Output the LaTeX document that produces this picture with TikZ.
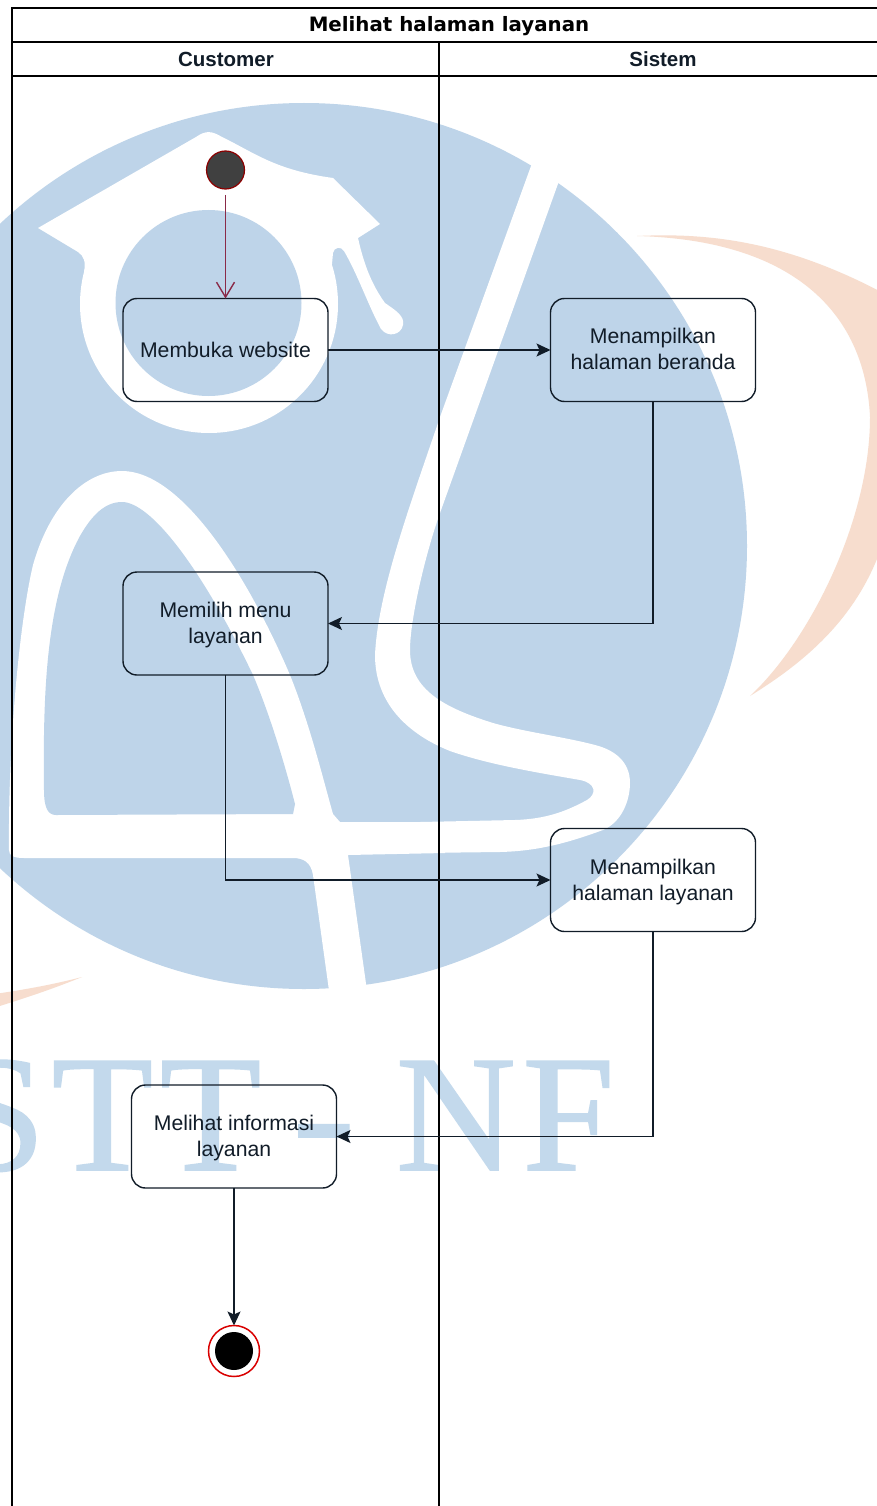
\documentclass[tikz,border=0pt]{standalone}
\usepackage{fontspec}
\setmainfont{Liberation Sans}
\newfontfamily\wmfont[LetterSpace=4,FakeBold=1.0]{Liberation Serif}
\newfontfamily\titlefont{DejaVu Sans}
\usetikzlibrary{arrows.meta,calc}
\definecolor{wmblue}{HTML}{BED4E9}
\definecolor{wmtext}{HTML}{C3D9EC}
\definecolor{wmorange}{HTML}{F7DDCE}
\definecolor{ink}{HTML}{111C28}
\definecolor{startred}{HTML}{8A2A48}
\newcommand\nudged[2]{\raisebox{#1}[\height][\depth]{#2}}
\tikzset{
  act/.style={draw=ink,line width=1.4pt,rounded corners=14pt,minimum width=205pt,minimum height=103pt,
    inner sep=0pt,outer sep=0pt,align=center,text=ink,font=\fontsize{21.2}{26}\selectfont},
  flow/.style={draw=ink,line width=1.4pt,-{Stealth[length=14pt,width=13pt,inset=3pt]}},
  frameline/.style={draw=black,line width=1.5pt},
  head/.style={inner sep=0pt,text=ink,font=\fontsize{20.5}{24}\selectfont\bfseries},
  wm/.style={inner sep=0pt,outer sep=0pt,anchor=base west,text=wmtext,font=\fontsize{166}{166}\selectfont\wmfont},
}
\begin{document}
\begin{tikzpicture}[x=1pt,y=-1pt]
\useasboundingbox (0,0) rectangle (877,1506);
\clip (0,0) rectangle (877,1506);
\fill[white] (0,0) rectangle (877,1506);
% --- watermark: crescents
\fill[wmorange] (637,236) .. controls (720,232) and (800,245) .. (905,305) -- (905,520) -- (877,559)
  .. controls (850,625) and (800,665) .. (750,696)
  .. controls (810,640) and (870,520) .. (870,417)
  .. controls (865,310) and (790,240) .. (637,236) -- cycle;
\fill[wmorange] (82,977) .. controls (55,984) and (25,990) .. (-20,996) -- (-20,1012)
  .. controls (20,1000) and (50,990) .. (82,977) -- cycle;
% --- watermark: disc
\fill[wmblue] (304,546) circle[radius=443];
% --- cap and ring
\fill[white] (209,304) circle[radius=129];
\fill[white] (84,272) .. controls (86,262) and (84,256) .. (78,252) -- (38,228) -- (196,137)
  .. controls (206,130) and (212,131) .. (222,137)
  .. controls (255,153) and (275,170) .. (333,178)
  -- (380,224) -- (358,238)
  .. controls (364,265) and (372,285) .. (385,303)
  .. controls (395,310) and (405,316) .. (403,325)
  .. controls (401,335) and (388,338) .. (381,329)
  .. controls (368,305) and (358,275) .. (344,251)
  .. controls (341,246) and (334,247) .. (333,253)
  -- (332,264) -- (209,304) -- cycle;
\fill[wmblue] (208.5,303) circle[radius=93];
% --- letter A band
\fill[white] (9,850) .. controls (8,740) and (20,620) .. (33,565)
  .. controls (50,505) and (85,471) .. (122,471)
  .. controls (180,471) and (245,570) .. (290,675)
  .. controls (310,725) and (322,775) .. (333,814)
  -- (340,822) -- (445,822) -- (445,853) -- (348,855) -- (369,1005) -- (331,1005) -- (313,875)
  .. controls (311,862) and (303,858) .. (293,858) -- (24,858) .. controls (14,858) and (9,856) .. (9,850) -- cycle;
\fill[wmblue] (44,790) .. controls (43,700) and (45,600) .. (80,536)
  .. controls (92,515) and (105,502) .. (122,502)
  .. controls (150,502) and (200,565) .. (253,675)
  .. controls (270,715) and (285,765) .. (295,804)
  -- (293,814) -- (56,815) .. controls (48,815) and (44,808) .. (44,790) -- cycle;
% --- letter S band
\fill[white] (538,148) -- (531,166) -- (440,417)
  .. controls (412,500) and (378,590) .. (375,655)
  .. controls (375,705) and (410,735) .. (450,751)
  .. controls (490,765) and (540,773) .. (580,780)
  .. controls (596,783) and (597,794) .. (587,800)
  .. controls (565,812) and (545,819) .. (515,820)
  -- (420,822) -- (420,853) -- (500,852)
  .. controls (540,851) and (570,842) .. (603,830)
  .. controls (622,822) and (630,800) .. (630,783)
  .. controls (630,762) and (615,750) .. (595,745)
  .. controls (565,737) and (525,732) .. (493,723)
  .. controls (445,708) and (410,690) .. (410,650)
  .. controls (410,620) and (425,555) .. (440,513)
  -- (559,181) -- (568,160) -- cycle;
% --- watermark text
\node[wm] (wmA) at (-47,1170) {STT};
\node[wm] (wmB) at (292,1170) {\scalebox{1.15}[1]{-}};
\node[wm] (wmC) at (396,1170) {NF};
% --- swimlane frame
\draw[frameline] (12,1510) -- (12,8) -- (880,8);
\draw[frameline] (12,42) -- (880,42);
\draw[frameline] (12,76) -- (880,76);
\draw[frameline] (439,42) -- (439,1510);
\node[inner sep=0pt,text=black,font=\fontsize{19.8}{24}\selectfont\titlefont\bfseries] (title) at (449,26) {Melihat halaman layanan};
\node[head] (custom) at (226,59) {Customer};
\node[head] (sistem) at (663,59) {Sistem};
% --- activities
\node[circle,fill=black!75,draw=red!55!black,line width=1.2pt,minimum size=38pt,inner sep=0pt,outer sep=0pt] (start) at (225.5,170) {};
\node[act] (buka) at (225.5,350) {Membuka website};
\node[act] (beranda) at (653,350) {\nudged{1pt}{Menampilkan}\\\nudged{1pt}{halaman beranda}};
\node[act] (pilih) at (225.5,623.5) {\nudged{-2pt}{Memilih menu}\\\nudged{-2pt}{layanan}};
\node[act] (tampil) at (653,880) {\nudged{-2pt}{Menampilkan}\\\nudged{-2pt}{halaman layanan}};
\node[act] (info) at (234,1136.5) {\nudged{-2pt}{Melihat informasi}\\\nudged{-2pt}{layanan}};
\node[circle,draw=red!85!black,line width=1.5pt,fill=white,minimum size=51pt,inner sep=0pt,outer sep=0pt] (stop) at (234,1351) {};
\node[circle,fill=black,minimum size=38pt,inner sep=0pt] (stopdot) at (234,1351) {};
% --- connectors
\draw[draw=startred,line width=1.4pt,-{Straight Barb[length=15pt,width=18pt,line width=1.4pt]}] (start.south) ++(0,6) -- (buka.north);
\draw[flow] (buka.east) -- (beranda.west);
\draw[flow] (beranda.south) |- (pilih.east);
\draw[flow] (pilih.south) |- (tampil.west);
\draw[flow] (tampil.south) |- (info.east);
\draw[flow] (info.south) -- (stop.north);
\end{tikzpicture}
\end{document}
